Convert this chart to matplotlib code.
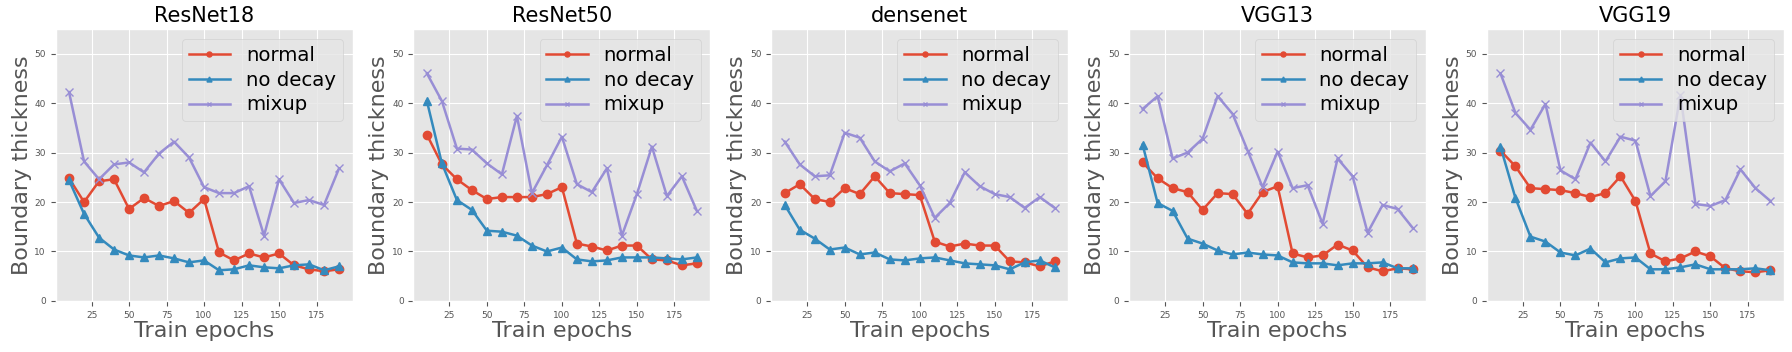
import matplotlib

matplotlib.use("Agg")
import matplotlib.pyplot as plt

epochs = list(range(10, 200, 10))
models = ["ResNet18", "ResNet50", "densenet", "VGG13", "VGG19"]

normal = {
    "ResNet18": [24.8, 20.0, 24.2, 24.6, 18.6, 20.8, 19.2, 20.2, 17.8, 20.6, 9.8, 8.2, 9.6, 8.8, 9.6, 7.2, 6.4, 6.0, 6.4],
    "ResNet50": [33.6, 27.6, 24.6, 22.4, 20.6, 21.0, 21.0, 21.0, 21.6, 23.0, 11.6, 11.0, 10.2, 11.2, 11.2, 8.4, 8.2, 7.2, 7.6],
    "densenet": [21.8, 23.6, 20.6, 20.0, 22.8, 21.6, 25.2, 21.8, 21.6, 21.4, 12.0, 11.0, 11.6, 11.2, 11.2, 8.0, 7.8, 7.0, 8.0],
    "VGG13": [28.0, 24.8, 22.8, 22.0, 18.4, 21.8, 21.6, 17.6, 22.0, 23.2, 9.6, 8.8, 9.2, 11.4, 10.2, 6.8, 6.0, 6.6, 6.4],
    "VGG19": [30.4, 27.2, 22.8, 22.6, 22.4, 21.8, 21.0, 21.8, 25.2, 20.2, 9.6, 8.0, 8.6, 10.0, 9.0, 6.6, 6.0, 5.8, 6.2],
}
no_decay = {
    "ResNet18": [24.4, 17.6, 12.8, 10.4, 9.2, 8.8, 9.2, 8.6, 7.8, 8.2, 6.2, 6.4, 7.2, 6.8, 6.6, 7.2, 7.4, 6.2, 7.0],
    "ResNet50": [40.4, 27.8, 20.4, 18.4, 14.2, 14.0, 13.2, 11.2, 10.0, 10.8, 8.4, 8.0, 8.2, 8.8, 8.8, 8.8, 8.6, 8.4, 8.8],
    "densenet": [19.4, 14.4, 12.6, 10.4, 10.8, 9.4, 9.8, 8.4, 8.2, 8.6, 8.8, 8.2, 7.6, 7.4, 7.2, 6.4, 7.8, 8.2, 6.8],
    "VGG13": [31.6, 19.8, 18.2, 12.6, 11.6, 10.2, 9.4, 9.8, 9.4, 9.2, 7.8, 7.6, 7.6, 7.2, 7.6, 7.6, 7.8, 6.6, 6.6],
    "VGG19": [31.2, 20.8, 13.0, 12.0, 9.8, 9.2, 10.6, 7.8, 8.6, 8.8, 6.4, 6.4, 6.8, 7.4, 6.4, 6.4, 6.4, 6.6, 6.2],
}
mixup = {
    "ResNet18": [42.2, 28.2, 24.6, 27.6, 28.0, 26.0, 29.8, 32.2, 29.0, 23.0, 21.8, 21.8, 23.2, 13.2, 24.6, 19.8, 20.4, 19.4, 26.8],
    "ResNet50": [46.0, 40.4, 30.8, 30.6, 27.8, 25.6, 37.4, 21.8, 27.4, 33.2, 23.6, 22.0, 26.8, 13.2, 21.6, 31.2, 21.2, 25.2, 18.2],
    "densenet": [32.2, 27.6, 25.2, 25.4, 34.0, 33.0, 28.2, 26.2, 27.8, 23.4, 16.8, 19.8, 26.0, 23.2, 21.6, 21.0, 18.8, 21.0, 18.8],
    "VGG13": [38.8, 41.4, 28.8, 30.0, 32.8, 41.4, 37.8, 30.4, 23.0, 30.2, 22.8, 23.4, 15.6, 28.8, 25.2, 13.8, 19.4, 18.6, 14.8],
    "VGG19": [46.0, 38.0, 34.6, 39.8, 26.4, 24.6, 32.0, 28.2, 33.2, 32.4, 21.2, 24.2, 41.6, 19.6, 19.2, 20.4, 26.6, 22.8, 20.2],
}

plt.style.use("ggplot")

fig, axes = plt.subplots(1, 5, figsize=(17.92, 3.52), dpi=100)
fig.subplots_adjust(left=0.031, right=0.9955, top=0.918, bottom=0.145, wspace=0.205)

for ax, name in zip(axes, models):
    ax.plot(epochs, normal[name], marker="o", lw=1.8, ms=6, label="normal")
    ax.plot(epochs, no_decay[name], marker="^", lw=1.8, ms=6, label="no decay")
    ax.plot(epochs, mixup[name], marker="x", lw=1.8, ms=6, label="mixup")
    ax.set_ylim(0, 55)
    ax.set_xticks([25, 50, 75, 100, 125, 150, 175])
    ax.set_yticks([0, 10, 20, 30, 40, 50])
    ax.tick_params(labelsize=6.5)
    ax.set_title(name, fontsize=15, color="black", pad=5)
    ax.set_xlabel("Train epochs", fontsize=16, labelpad=1)
    ax.set_ylabel("Boundary thickness", fontsize=16, labelpad=2)
    ax.legend(loc="upper right", fontsize=14.2, handlelength=2.1, borderpad=0.35,
              labelspacing=0.3, markerscale=0.6)

fig.savefig("out.png")
